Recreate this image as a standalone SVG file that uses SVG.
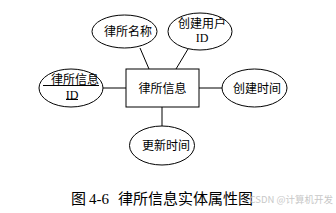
<svg xmlns="http://www.w3.org/2000/svg" width="336" height="213" viewBox="0 0 336 213">
<style>
.s{fill:#fff;stroke:#000;stroke-width:1}
.l{stroke:#000;stroke-width:1;fill:none}
.t{font-family:"Noto Sans CJK SC","Liberation Sans",sans-serif;font-size:12px;fill:#000;text-anchor:middle}
.id{font-family:"Liberation Serif",serif;font-size:12px;fill:#000;text-anchor:middle}
.c{font-family:"Noto Sans CJK SC","Liberation Serif",sans-serif;font-size:15px;fill:#000}
.n{font-family:"Liberation Serif",serif;font-size:15px;fill:#000}
</style>
<rect width="336" height="213" fill="#fff"/>
<g id="connectors">
<line class="l" x1="140" y1="48" x2="149" y2="69"/>
<line class="l" x1="188" y1="49" x2="176" y2="69"/>
<line class="l" x1="103" y1="88" x2="126" y2="88"/>
<line class="l" x1="199" y1="88" x2="222" y2="88"/>
<line class="l" x1="162" y1="107" x2="162" y2="126"/>
</g>
<g id="entity">
<rect class="s" x="126" y="69" width="73" height="38"/>
<text class="t" x="162.5" y="92.5">律所信息</text>
</g>
<g id="attr-name">
<ellipse class="s" cx="124.5" cy="31.5" rx="32.5" ry="16.5"/>
<text class="t" x="128" y="36">律所名称</text>
</g>
<g id="attr-user">
<ellipse class="s" cx="200" cy="31.5" rx="32" ry="18.5"/>
<text class="t" x="202" y="28">创建用户</text>
<text class="id" x="202" y="42">ID</text>
</g>
<g id="attr-id">
<ellipse class="s" cx="71" cy="88" rx="32" ry="19"/>
<text class="t" x="75" y="84">律所信息</text>
<line class="l" x1="43" y1="85.5" x2="99" y2="85.5"/>
<text class="id" x="72" y="99">ID</text>
<line class="l" x1="66" y1="99.5" x2="78" y2="99.5"/>
</g>
<g id="attr-ctime">
<ellipse class="s" cx="254.5" cy="88" rx="32.5" ry="19"/>
<text class="t" x="257" y="92.5">创建时间</text>
</g>
<g id="attr-utime">
<ellipse class="s" cx="162" cy="145.5" rx="32.5" ry="19.5"/>
<text class="t" x="166" y="150">更新时间</text>
</g>
<g id="caption">
<text class="c" x="71" y="204">图</text>
<text class="n" x="89" y="204" textLength="20">4-6</text>
<text class="c" x="118" y="204" textLength="135" lengthAdjust="spacing">律所信息实体属性图</text>
</g>
<text x="333" y="203" font-family="Noto Sans CJK SC,Liberation Sans,sans-serif" font-size="9.5" fill="#c8c8c8" text-anchor="end">CSDN @计算机开发</text>
</svg>
